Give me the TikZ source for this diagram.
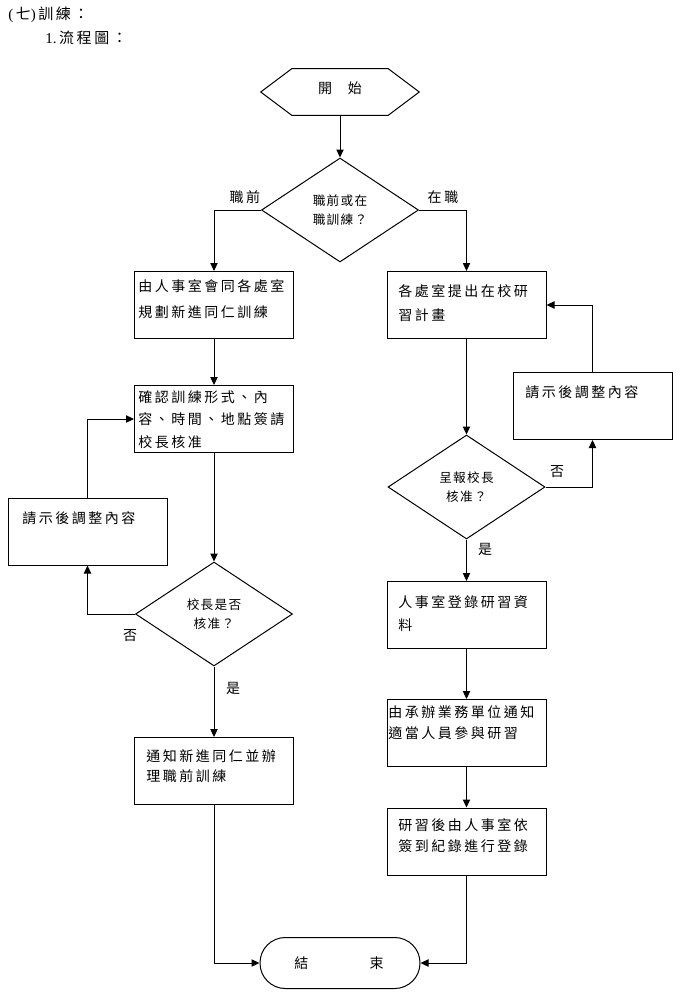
\documentclass[tikz,border=0pt]{standalone}
\usepackage{fontspec}
\setmainfont{Liberation Serif}
\newfontfamily\cjk[LetterSpace=18]{Noto Sans CJK TC}
\newfontfamily\cjkd[LetterSpace=10]{Noto Sans CJK TC}
\usetikzlibrary{shapes.geometric,arrows.meta}
\begin{document}
\begin{tikzpicture}[x=0.75pt,y=-0.75pt,
  line/.style={draw=black, line width=0.75pt},
  arr/.style={line, -{Triangle[length=6pt,width=5.5pt]}},
  stepbox/.style={draw, line width=0.75pt, minimum width=119.25pt, minimum height=50.25pt, inner sep=0pt},
  btext/.style={anchor=north west, inner sep=0pt, align=left, font=\cjk\fontsize{10.5pt}{17pt}\selectfont},
  dec/.style={diamond, draw, line width=0.75pt, minimum width=117.75pt, minimum height=78pt, inner sep=0pt, align=center, font=\cjkd\fontsize{9.5pt}{14.5pt}\selectfont},
  lab/.style={inner sep=0pt, font=\cjk\fontsize{10.5pt}{12pt}\selectfont},
]
\useasboundingbox (0,0) rectangle (684,1000);

% title
\node[anchor=west, inner sep=0pt, font=\fontsize{11.25pt}{13pt}\selectfont] (title1) at (8,15) {(\,{\cjk 七})\,{\cjk 訓練：}};
\node[anchor=west, inner sep=0pt, font=\fontsize{11.25pt}{13pt}\selectfont] (title2) at (45,38) {1.\,{\cjk 流程圖：}};

% start
\node[minimum width=118.5pt, minimum height=34.5pt, inner sep=0pt] (start) at (340,92) {};
\draw[line] (start.west) -- ([xshift=23.25pt]start.north west) -- ([xshift=-23.25pt]start.north east) -- (start.east) -- ([xshift=-23.25pt]start.south east) -- ([xshift=23.25pt]start.south west) -- cycle;
\node[lab] (starttext) at (340,88) {開\hspace{12pt}始};

% decisions
\node[dec] (d1) at (340,210) {職前或在\\職訓練？};
\node[dec] (d2) at (214,614) {校長是否\\核准？};
\node[dec] (d3) at (466.5,487) {呈報校長\\核准？};

% boxes
\node[stepbox] (box1) at (214,305) {};
\node[stepbox] (box2) at (214,419) {};
\node[stepbox] (box3) at (466.5,305) {};
\node[stepbox] (rbox) at (592.5,406) {};
\node[stepbox] (lbox) at (87.5,531.5) {};
\node[stepbox] (box7) at (214,771) {};
\node[stepbox] (box4) at (466.5,615) {};
\node[stepbox] (box5) at (466.5,733) {};
\node[stepbox] (box6) at (466.5,841.5) {};

\node[btext, font=\cjk\fontsize{10.5pt}{19.5pt}\selectfont] (t1) at (138,279) {由人事室會同各處室\\規劃新進同仁訓練};
\node[btext] (t2) at (138,390) {確認訓練形式、內\\容、時間、地點簽請\\校長核准};
\node[btext, font=\cjk\fontsize{10.5pt}{18pt}\selectfont] (t3) at (398,284) {各處室提出在校研\\習計畫};
\node[btext] (trb) at (525,385) {請示後調整內容};
\node[btext] (tlb) at (22,511) {請示後調整內容};
\node[btext, font=\cjk\fontsize{10.5pt}{17.25pt}\selectfont] (t4) at (398,595) {人事室登錄研習資\\料};
\node[btext, font=\cjk\fontsize{10.5pt}{15.75pt}\selectfont] (t5) at (388,705) {由承辦業務單位通知\\適當人員參與研習};
\node[btext, font=\cjk\fontsize{10.5pt}{15.75pt}\selectfont] (t6) at (398,818) {研習後由人事室依\\簽到紀錄進行登錄};
\node[btext, font=\cjk\fontsize{10.5pt}{15pt}\selectfont] (t7) at (146,749) {通知新進同仁並辦\\理職前訓練};

% end
\node[draw, line width=0.75pt, rounded corners=19pt, minimum width=120pt, minimum height=38.25pt, inner sep=0pt] (end) at (340,963) {};
\node[lab] (endtext) at (339,963) {結\hspace{46pt}束};

% labels
\node[lab] (l1) at (245,197) {職前};
\node[lab] (l2) at (443,197) {在職};
\node[lab] (l3) at (130,636) {否};
\node[lab] (l4) at (233,688) {是};
\node[lab] (l5) at (557,472) {否};
\node[lab] (l6) at (485,549) {是};

% connectors
\draw[arr] (start.south) -- (d1.north);
\draw[arr] (d1.west) -| (box1.north);
\draw[arr] (d1.east) -| (box3.north);
\draw[arr] (box1) -- (box2);
\draw[arr] (box2) -- (d2);
\draw[arr] (d2.west) -| (lbox.south);
\draw[arr] (lbox.north) |- (box2.west);
\draw[arr] (d2) -- (box7);
\draw[arr] (box7.south) |- (end.west);
\draw[arr] (box3) -- (d3);
\draw[arr] (d3.east) -| (rbox.south);
\draw[arr] (rbox.north) |- (box3.east);
\draw[arr] (d3) -- (box4);
\draw[arr] (box4) -- (box5);
\draw[arr] (box5) -- (box6);
\draw[arr] (box6.south) |- (end.east);
\end{tikzpicture}
\end{document}
